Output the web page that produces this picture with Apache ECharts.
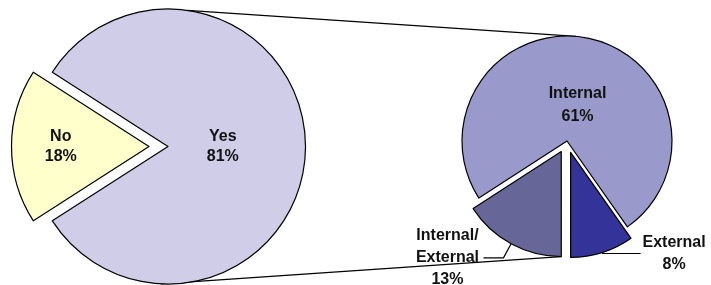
<!DOCTYPE html>
<html>
<head>
<meta charset="utf-8">
<script src="https://cdn.jsdelivr.net/npm/echarts@6/dist/echarts.min.js"></script>
<style>
    html, body { margin: 0; padding: 0; background: #fff; }
    #chart { width: 711px; height: 285px; }
</style>
</head>
<body>
<div id="chart"></div>
<script>
// 左侧饼图
var mainNames = ['No', 'Yes'];
var mainValues = [18, 81];
// 右侧饼图 (Yes 的拆分)
var subNames = ['Internal/\nExternal', 'Internal', 'External'];
var subValues = [13, 61, 8];

var mainColors = ['#FFFFCC', '#CFCDE8'];
var subColors = ['#666699', '#9999CC', '#333399'];

// 几何
var CX1 = 168, CY1 = 146.5, R1 = 137.5;
var CX2 = 567, CY2 = 141, R2 = 105;
var OFF1 = 19, OFF2 = 12;

var font = '"Liberation Sans", Arial, Helvetica, sans-serif';
var myChart = echarts.init(document.getElementById('chart'));

var mainSum = mainValues[0] + mainValues[1];
var subSum = subValues.reduce(function (a, b) { return a + b; }, 0);

var mainData = mainNames.map(function (n, i) {
    return {
        name: n,
        value: mainValues[i],
        selected: i === 0,
        itemStyle: { color: mainColors[i] },
        label: { padding: i === 0 ? [0, 33, 0, 0] : [0, 34, 0, 0] }
    };
});

function rich(params) {
    var lines = params.name.split('\n');
    lines.push(params.value + '%');
    return lines.map(function (s) { return '{t|' + s + '}'; }).join('\n');
}

var subItemOpts = [
    { selected: true, label: { position: 'outside', formatter: rich }, labelLine: { show: true, length: 16, length2: 20 } },
    { selected: false, label: { position: 'inside', padding: [37, 0, 0, 0] }, labelLine: { show: false } },
    { selected: true, label: { position: 'outside', formatter: rich, rich: { t: { width: 63 } } }, labelLine: { show: true, length: 1, length2: 38 } }
];

var subData = subNames.map(function (n, i) {
    return echarts.util.merge({
        name: n,
        value: subValues[i],
        itemStyle: { color: subColors[i] }
    }, subItemOpts[i], true);
});

// 连接线 (两个饼之间)
var rad = Math.PI / 180;
var bisIE = (270 - 180 * subValues[0] / subSum) * rad;
var lines = [
    [CX1 + R1 * Math.cos(82 * rad), CY1 - R1 * Math.sin(82 * rad),
     CX2 + R2 * Math.cos(85 * rad), CY2 - R2 * Math.sin(85 * rad)],
    [CX1 + R1 * Math.cos(-93 * rad), CY1 - R1 * Math.sin(-93 * rad),
     CX2 + OFF2 * Math.cos(bisIE), CY2 - OFF2 * Math.sin(bisIE) + R2]
];

var option = {
    backgroundColor: '#fff',
    animation: false,
    graphic: lines.map(function (l) {
        return {
            type: 'line', silent: true, z: 0,
            shape: { x1: l[0], y1: l[1], x2: l[2], y2: l[3] },
            style: { stroke: '#000', lineWidth: 1.2 }
        };
    }),
    series: [{
        type: 'pie',
        center: [CX1, CY1],
        radius: R1,
        startAngle: 180 + 180 * mainValues[0] / mainSum,
        clockwise: true,
        selectedMode: 'multiple',
        selectedOffset: OFF1,
        avoidLabelOverlap: false,
        emphasis: { disabled: true },
        itemStyle: { borderColor: '#000', borderWidth: 1.2 },
        label: {
            position: 'inside',
            formatter: '{b}\n{c}%',
            color: '#111',
            fontFamily: font,
            fontWeight: 'bold',
            fontSize: 16,
            lineHeight: 20
        },
        labelLine: { show: false },
        data: mainData
    }, {
        type: 'pie',
        center: [CX2, CY2],
        radius: R2,
        startAngle: 270,
        clockwise: true,
        selectedMode: 'multiple',
        selectedOffset: OFF2,
        avoidLabelOverlap: false,
        emphasis: { disabled: true },
        itemStyle: { borderColor: '#000', borderWidth: 1.2 },
        label: {
            formatter: '{b}\n{c}%',
            color: '#111',
            fontFamily: font,
            fontWeight: 'bold',
            fontSize: 16,
            lineHeight: 23,
            distanceToLabelLine: 2,
            rich: {
                t: {
                    width: 68,
                    align: 'center',
                    color: '#111',
                    fontFamily: font,
                    fontWeight: 'bold',
                    fontSize: 16,
                    lineHeight: 22
                }
            }
        },
        labelLine: { lineStyle: { color: '#000', width: 1.2 } },
        data: subData
    }]
};
myChart.setOption(option);
</script>
</body>
</html>
